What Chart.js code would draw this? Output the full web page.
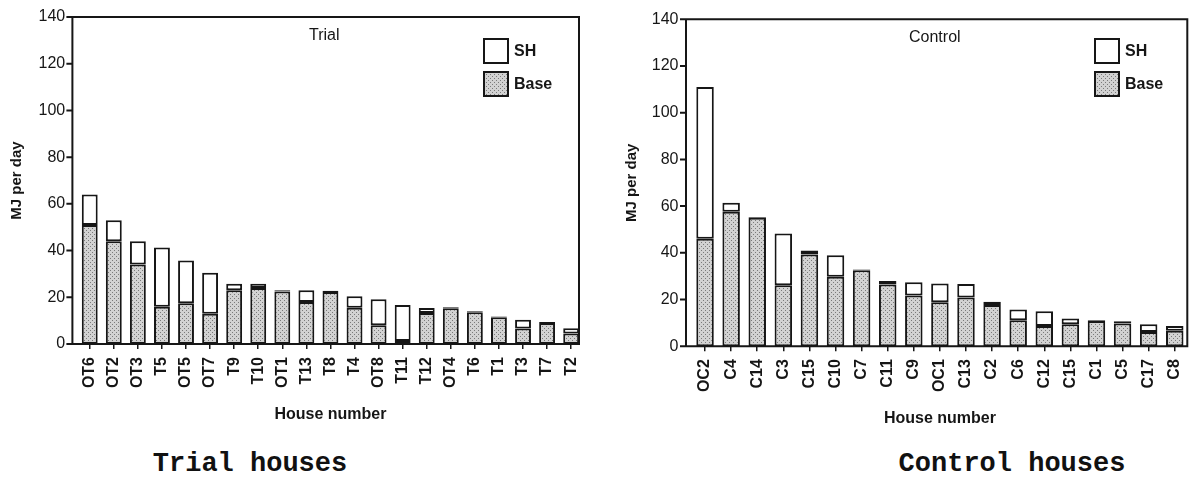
<!DOCTYPE html>
<html>
<head>
<meta charset="utf-8">
<script src="https://cdn.jsdelivr.net/npm/chart.js@4"></script>
<style>
  body { margin: 0; background: #fff; width: 1190px; height: 477px; position: relative; overflow: hidden; }
  canvas { position: absolute; top: 0; }
  #trialChart { left: 0; }
  #controlChart { left: 595px; }
  .caption { position: absolute; top: 451px; font: bold 27px "Liberation Mono", "Courier New", monospace; line-height: 27px; color: #111; white-space: nowrap; transform: translateX(-50%); }
</style>
</head>
<body>
<canvas id="trialChart" width="595" height="440"></canvas>
<canvas id="controlChart" width="595" height="440"></canvas>
<div class="caption" style="left:250px">Trial houses</div>
<div class="caption" style="left:1012px">Control houses</div>
<script>
// Daily energy use per house (MJ per day), split into base load and space heating (SH)
const trialHouses = ['OT6', 'OT2', 'OT3', 'T5', 'OT5', 'OT7', 'T9', 'T10', 'OT1', 'T13', 'T8', 'T4', 'OT8', 'T11', 'T12', 'OT4', 'T6', 'T1', 'T3', 'T7', 'T2']
const trialBase = [51, 44, 34, 16, 17.5, 13, 23, 24, 22.5, 18, 22.3, 15.5, 8, 1.3, 13.3, 15.3, 13.6, 11.4, 6.6, 9, 4.5]
const trialSH = [13, 9, 10, 25.3, 18.3, 17.5, 2.8, 1.8, 0.5, 5, 0.5, 4.9, 11.2, 15.4, 2.1, 0.4, 0.4, 0.4, 3.8, 0.4, 2.2]

const controlHouses = ['OC2', 'C4', 'C14', 'C3', 'C15', 'C10', 'C7', 'C11', 'C9', 'OC1', 'C13', 'C2', 'C6', 'C12', 'C15', 'C1', 'C5', 'C17', 'C8']
const controlBase = [46, 57.6, 55, 26.1, 39.3, 29.7, 32.5, 26.4, 21.7, 18.8, 20.9, 17.6, 11.1, 8.7, 9.4, 10.8, 9.7, 6.1, 6.6]
const controlSH = [65, 3.8, 0.3, 22.2, 1.7, 9.3, 0.4, 1.5, 5.7, 8, 5.7, 1.4, 4.6, 6.3, 2.5, 0.3, 1, 3.3, 2]

const yMax = 140
const yStep = 20

const FONT = '"Liberation Sans", Arial, Helvetica, sans-serif'
const INK = '#161616'
Chart.defaults.font.family = FONT
Chart.defaults.color = INK

// stippled grey fill for the base load
function stipple(ctx) {
  const c = document.createElement('canvas')
  c.width = 4
  c.height = 4
  const g = c.getContext('2d')
  g.fillStyle = '#d2d2d2'
  g.fillRect(0, 0, 4, 4)
  g.fillStyle = '#7a7a7a'
  g.fillRect(0, 0, 1, 1)
  g.fillRect(2, 2, 1, 1)
  return ctx.createPattern(c, 'repeat')
}

// box around the plot, y tick marks, panel name and the legend
const framePlugin = {
  id: 'frame',
  afterDraw(chart, args, opts) {
    const { ctx, chartArea: a } = chart
    const y = chart.scales.y
    const x0 = a.left - opts.left
    const x1 = a.right - opts.right
    ctx.save()
    ctx.strokeStyle = INK
    ctx.lineWidth = 2
    ctx.beginPath()
    ctx.moveTo(x0, a.bottom)
    ctx.lineTo(x0, a.top)
    ctx.lineTo(x1, a.top)
    ctx.lineTo(x1, a.bottom)
    ctx.closePath()
    y.ticks.forEach(t => {
      const py = y.getPixelForValue(t.value)
      ctx.moveTo(x0 - 6, py)
      ctx.lineTo(x0, py)
    })
    ctx.stroke()

    ctx.fillStyle = INK
    ctx.textBaseline = 'middle'
    ctx.font = '16px ' + FONT
    ctx.fillText(opts.label, opts.labelX, opts.labelY)

    const items = chart.data.datasets.slice().reverse()
    ctx.font = 'bold 16px ' + FONT
    items.forEach((ds, i) => {
      const bx = opts.legendX
      const by = opts.legendY + i * 33
      ctx.fillStyle = ds.backgroundColor
      ctx.fillRect(bx, by, 24, 24)
      ctx.lineWidth = 2
      ctx.strokeRect(bx, by, 24, 24)
      ctx.fillStyle = INK
      ctx.fillText(ds.label, bx + 30, by + 13)
    })
    ctx.restore()
  }
}

function buildChart(id, houses, base, sh, cfg) {
  const ctx = document.getElementById(id).getContext('2d')
  return new Chart(ctx, {
    type: 'bar',
    data: {
      labels: houses,
      datasets: [
        { label: 'Base', data: base, backgroundColor: stipple(ctx), borderColor: INK, borderWidth: 2, borderSkipped: false },
        { label: 'SH', data: sh, backgroundColor: '#ffffff', borderColor: INK, borderWidth: 2, borderSkipped: false }
      ]
    },
    options: {
      responsive: false,
      animation: false,
      layout: { padding: { top: cfg.top, right: cfg.right, left: 0, bottom: 0 } },
      datasets: { bar: { barPercentage: cfg.barPct, categoryPercentage: 1 } },
      plugins: {
        legend: { display: false },
        tooltip: { enabled: false },
        frame: cfg.frame
      },
      scales: {
        x: {
          stacked: true,
          grid: { display: true, drawOnChartArea: false, offset: false, tickLength: 5, color: INK, lineWidth: 1.5 },
          border: { display: false },
          ticks: { autoSkip: false, minRotation: 90, maxRotation: 90, padding: 8, font: { size: 16, weight: 'bold' } },
          title: { display: true, text: 'House number', font: { size: 16, weight: 'bold' }, padding: { top: 0, bottom: cfg.xTitlePad } },
          afterFit: s => {
            s.height = cfg.xHeight
            s.paddingLeft = 0
            s.paddingRight = 0
          }
        },
        y: {
          stacked: true,
          min: 0,
          max: yMax,
          grid: { display: false, drawTicks: false },
          border: { display: false },
          ticks: { stepSize: yStep, padding: cfg.yTickPad, font: { size: 16 } },
          title: { display: true, text: 'MJ per day', font: { size: 15, weight: 'bold' }, padding: { top: cfg.yTitlePad, bottom: 0 } },
          afterFit: s => {
            s.width = cfg.yWidth
            s.paddingTop = 0
            s.paddingBottom = 0
          }
        }
      }
    },
    plugins: [framePlugin]
  })
}

buildChart('trialChart', trialHouses, trialBase, trialSH, {
  top: 17, right: 11.8, yWidth: 77.7, xHeight: 96, barPct: 0.66,
  yTickPad: 12.5, yTitlePad: 8, xTitlePad: 16,
  frame: { left: 5.3, right: 4.2, label: 'Trial', labelX: 309, labelY: 36, legendX: 484, legendY: 39 }
})

buildChart('controlChart', controlHouses, controlBase, controlSH, {
  top: 19.3, right: 2.2, yWidth: 97, xHeight: 93.8, barPct: 0.67,
  yTickPad: 13.5, yTitlePad: 28, xTitlePad: 12,
  frame: { left: 6, right: 0.5, label: 'Control', labelX: 314, labelY: 38, legendX: 500, legendY: 39 }
})
</script>
</body>
</html>
